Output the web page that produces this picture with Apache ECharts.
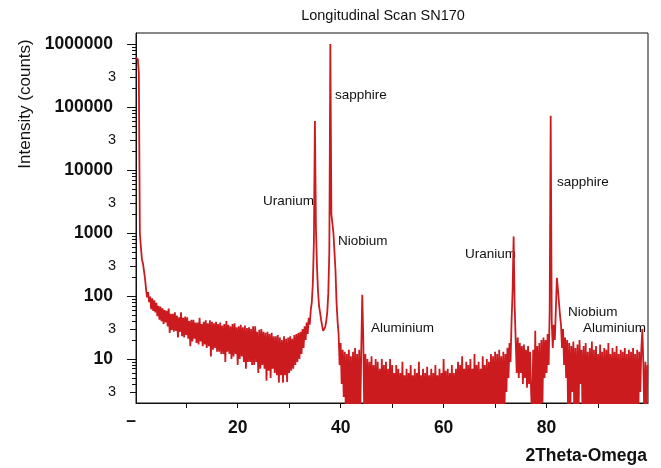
<!DOCTYPE html>
<html><head><meta charset="utf-8">
<script src="https://cdn.jsdelivr.net/npm/echarts@6/dist/echarts.min.js"></script>
<style>html,body{margin:0;padding:0;background:#fff}#c{width:661px;height:468px}</style>
</head><body><div id="c"></div>
<script>
// 2Theta scan parameters (uniform scan grid)
const scanStart = 0.2, scanStep = 0.2;
// intensity (counts), 5 points per degree
const intensity = [
  600000, 620000, 580000, 350000, 1000,
  600, 380, 330, 250, 190,
  130, 95, 115, 80, 98,
  62, 92, 58, 85, 55,
  78, 48, 70, 42, 68,
  40, 64, 36, 60, 38,
  58, 33, 63, 26, 52,
  29, 52, 27, 55, 28,
  49, 22, 46, 27, 55,
  23, 45, 22, 47, 24,
  46, 21, 40, 16, 42,
  19, 42, 21, 38, 18,
  38, 17, 45, 19, 36,
  16, 39, 17, 41, 15,
  37, 16, 41, 11, 39,
  14, 37, 15, 39, 13,
  36, 13, 38, 12, 34,
  12, 36, 9, 40, 13,
  35, 12, 33, 10, 36,
  11, 37, 12, 32, 8,
  33, 10, 35, 11, 32,
  9, 34, 7, 31, 9,
  32, 9, 30, 8, 33,
  8, 33, 9, 27, 6,
  29, 7, 30, 8, 27,
  7, 26, 4.5, 27, 6.5,
  25, 5, 26, 7, 23,
  6, 23, 5.5, 24, 4.2,
  22, 5.5, 20, 4.2, 23,
  5.5, 21, 4.3, 22, 6,
  23, 6.5, 21, 7, 24,
  8, 25, 9, 26, 10,
  27, 12, 30, 15, 33,
  20, 38, 25, 45, 35,
  60, 80, 160, 700, 60000,
  1200, 300, 120, 70, 55,
  42, 34, 28, 29, 32,
  40, 55, 110, 500, 1000000,
  2000, 1900, 1000, 500, 250,
  80, 40, 25, 8, 18,
  4, 14, 2.5, 13, 1.5,
  12, 1, 14, 1, 11,
  1, 13, 1, 15, 1,
  12, 1, 14, 1, 14,
  105, 20, 1, 12, 1,
  10, 1, 9, 1, 11,
  1, 8, 1, 10, 1,
  9, 1, 7, 1, 10,
  1, 8, 1, 9, 1,
  7, 1, 10, 1, 8,
  1, 6, 1, 8, 1,
  7, 1, 6, 1, 9,
  1, 5.5, 1, 7, 1,
  6, 1, 8, 1, 5.5,
  1, 7, 1, 6, 1,
  9, 1, 5.5, 1, 7,
  1, 6, 1, 7.5, 1,
  5.5, 1, 7, 1, 6,
  1, 8, 1, 5.5, 1,
  7, 1, 6, 1, 10,
  1, 6.5, 1, 7, 1,
  6, 1, 8, 1, 6,
  1, 7, 1, 9, 1,
  8, 1, 11, 1, 7,
  1, 9, 1, 8, 1,
  10, 1, 7, 1, 12,
  1, 8, 1, 9, 1,
  7, 1, 11, 1, 8,
  1, 10, 1, 9, 1,
  12, 1, 11, 1, 13,
  1, 12, 1, 14, 1,
  11, 1, 13, 1, 12,
  3, 15, 5, 18, 9,
  40, 120, 880, 70, 20,
  6, 22, 5, 18, 6,
  16, 4, 17, 5, 14,
  3.5, 16, 4, 13, 3,
  1, 14, 1, 28, 1,
  16, 1, 18, 1, 20,
  2, 22, 5, 20, 6,
  25, 8, 60, 73000, 40,
  15, 35, 20, 60, 195,
  130, 80, 50, 35, 15,
  30, 8, 22, 5, 20,
  1, 18, 1, 16, 3,
  19, 1, 15, 1, 17,
  1, 20, 4, 14, 1,
  16, 1, 18, 1, 13,
  1, 15, 1, 19, 1,
  14, 1, 16, 1, 12,
  1, 17, 1, 13, 1,
  15, 1, 14, 1, 18,
  1, 12, 1, 15, 1,
  13, 1, 16, 1, 12,
  1, 14, 1, 13, 1,
  15, 1, 12, 1, 14,
  1, 13, 1, 15, 1,
  12, 1, 14, 1, 13,
  3, 14, 30, 8, 1,
  9, 1, 8
];

const xTickValues = [10, 20, 30, 40, 50, 60, 70, 80, 90];
const xLabelValues = [20, 40, 60, 80];
const yMajorValues = [10, 100, 1000, 10000, 100000, 1000000];
const yMajorLabels = ['10', '100', '1000', '10000', '100000', '1000000'];
const yThreeValues = [3, 30, 300, 3000, 30000, 300000];
const yThreeLabels = ['3', '3', '3', '3', '3', '3'];
const yMinorValues = [4, 5, 6, 7, 8, 9,
  20, 40, 50, 60, 70, 80, 90,
  200, 400, 500, 600, 700, 800, 900,
  2000, 4000, 5000, 6000, 7000, 8000, 9000,
  20000, 40000, 50000, 60000, 70000, 80000, 90000,
  200000, 400000, 500000, 600000, 700000, 800000, 900000];
const peakLabels = ['sapphire', 'Uranium', 'Niobium', 'Aluminium', 'Uranium', 'sapphire', 'Niobium', 'Aluminium'];

const FONT = 'Liberation Sans, Arial, Helvetica, sans-serif';
const yMin = 2, yMax = 1.5e6;
const L = Math.log10;

const seriesData = intensity.map((v, i) => [scanStart + i * scanStep, v]);

function overlayY(values, len, withLabels) {
  const ax = {
    type: 'value', position: 'left', offset: 0, min: L(yMin), max: L(yMax),
    axisLine: { show: false }, splitLine: { show: false },
    axisTick: { show: true, inside: false, length: len, customValues: values.map(L), lineStyle: { color: '#111', width: 1 } },
    axisLabel: { show: false }
  };
  if (withLabels) {
    const labVals = yThreeValues.concat(yMajorValues);
    const labTxt = yThreeLabels.map(t => '{n|' + t + '}').concat(yMajorLabels.map(t => '{b|' + t + '}'));
    ax.axisLabel = {
      show: true, customValues: labVals.map(L), margin: 20,
      formatter: function (v) {
        for (let i = 0; i < labVals.length; i++) if (Math.abs(L(labVals[i]) - v) < 1e-6) return labTxt[i];
        return '';
      },
      rich: {
        b: { fontFamily: FONT, fontSize: 17.5, fontWeight: 'bold', color: '#111', padding: [0, 3, 0, 0] },
        n: { fontFamily: FONT, fontSize: 14.5, color: '#111' }
      }
    };
  }
  return ax;
}

function txt(s, x, y, opts) {
  return Object.assign({
    type: 'text', x: x, y: y, silent: true,
    style: Object.assign({ text: s, fill: '#111', fontFamily: FONT, fontSize: 13.5,
      align: 'left', verticalAlign: 'middle', textAlign: 'left', textVerticalAlign: 'middle' }, opts || {})
  });
}

const chart = echarts.init(document.getElementById('c'), null, { renderer: 'canvas' });
chart.setOption({
  animation: false,
  backgroundColor: '#fff',
  grid: { left: 136, right: 13, top: 33, bottom: 65, show: true, borderColor: '#111', borderWidth: 1,
    backgroundColor: 'transparent', containLabel: false, outerBoundsMode: 'none' },
  xAxis: [{
    type: 'value', min: 0.25, max: 99.7,
    axisLine: { show: true, lineStyle: { color: '#111', width: 1 } },
    axisTick: { show: true, inside: false, length: 5, customValues: xTickValues, lineStyle: { color: '#111', width: 1 } },
    axisLabel: { show: true, customValues: xLabelValues, margin: 16, fontFamily: FONT, fontSize: 17.5, fontWeight: 'bold', color: '#111' },
    splitLine: { show: false }
  }],
  yAxis: [
    {
      type: 'log', logBase: 10, min: yMin, max: yMax, position: 'left',
      axisLine: { show: true, lineStyle: { color: '#111', width: 1 } },
      axisTick: { show: false }, axisLabel: { show: false }, splitLine: { show: false }, minorTick: { show: false }
    },
    overlayY(yMajorValues, 9, true),
    overlayY(yThreeValues, 6, false),
    overlayY(yMinorValues, 4, false)
  ],
  series: [{
    type: 'line', xAxisIndex: 0, yAxisIndex: 0, data: seriesData,
    showSymbol: false, symbol: 'none', smooth: false, sampling: 'none', clip: true,
    lineStyle: { color: '#cc1b1f', width: 1.8, join: 'bevel' }, itemStyle: { color: '#cc1b1f' }
  }],
  graphic: [
    txt('Longitudinal Scan SN170', 383, 16, { fontSize: 14.5, align: 'center', textAlign: 'center' }),
    Object.assign(txt('Intensity (counts)', 25, 104, { fontSize: 17, align: 'center', textAlign: 'center' }), { rotation: Math.PI / 2 }),
    txt('2Theta-Omega', 647, 456, { fontSize: 17.5, fontWeight: 'bold', align: 'right', textAlign: 'right' }),
    txt('\u2013', 131, 421, { fontSize: 17.5, fontWeight: 'bold', align: 'center', textAlign: 'center' }),
    txt(peakLabels[0], 335, 95),
    txt(peakLabels[1], 263, 201),
    txt(peakLabels[2], 338, 241),
    txt(peakLabels[3], 371, 328.5),
    txt(peakLabels[4], 465, 254.5),
    txt(peakLabels[5], 557, 182.5),
    txt(peakLabels[6], 568, 312.5),
    txt(peakLabels[7], 583, 328.5)
  ]
});
</script>
</body></html>
